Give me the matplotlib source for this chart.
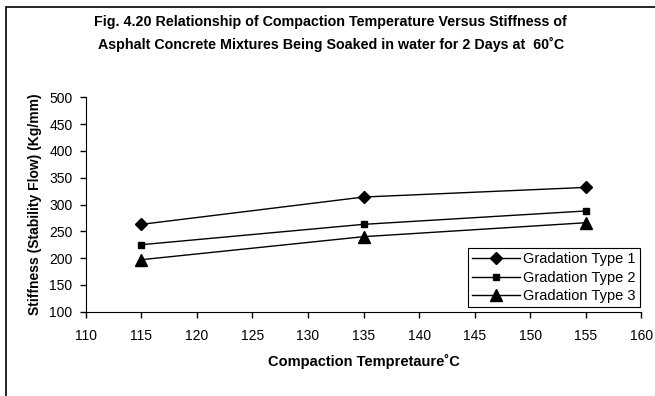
import matplotlib.pyplot as plt
from matplotlib.patches import Rectangle

temps = [115, 135, 155]
type1 = [263, 314, 332]
type2 = [225, 263, 288]
type3 = [197, 240, 266]
labels = ["Gradation Type 1", "Gradation Type 2", "Gradation Type 3"]

plt.rcParams['font.family'] = ['Liberation Sans', 'DejaVu Sans']

fig = plt.figure(figsize=(6.55, 3.96), dpi=100)
ax = fig.add_axes([0.131, 0.213, 0.848, 0.541])

# outer chart frame, cut off on the right and bottom like the source
fig.patches.append(Rectangle((6 / 655, -0.1), 1.2, 1 - 7 / 396 + 0.1,
                             transform=fig.transFigure, fill=False,
                             edgecolor='black', linewidth=1.2))

ax.plot(temps, type1, color='black', lw=1, marker='D', ms=6.5, label=labels[0])
ax.plot(temps, type2, color='black', lw=1, marker='s', ms=5, label=labels[1])
ax.plot(temps, type3, color='black', lw=1, marker='^', ms=8, label=labels[2])

ax.set_xlim(110, 160)
ax.set_ylim(100, 500)
ax.set_xticks(range(110, 161, 5))
ax.set_yticks(range(100, 501, 50))
ax.spines['top'].set_visible(False)
ax.spines['right'].set_visible(False)
ax.tick_params(direction='out', length=4.5, width=1, labelsize=10)
ax.tick_params(axis='x', pad=8)
ax.tick_params(axis='y', pad=5)

ax.set_xlabel("Compaction Tempretaure\u02daC", fontsize=10.5, fontweight='bold', labelpad=8)
ax.set_ylabel("Stiffness (Stability Flow) (Kg/mm)", fontsize=10, fontweight='bold', labelpad=5)

fig.text(0.505, 0.945, "Fig. 4.20 Relationship of Compaction Temperature Versus Stiffness of",
         ha='center', va='center', fontsize=10.3, fontweight='bold')
fig.text(0.505, 0.888, "Asphalt Concrete Mixtures Being Soaked in water for 2 Days at  60\u02daC",
         ha='center', va='center', fontsize=10.3, fontweight='bold')

leg = ax.legend(loc='lower right', bbox_to_anchor=(0.998, 0.02), fontsize=10.5,
                frameon=True, fancybox=False, edgecolor='black', framealpha=1,
                handlelength=3.3, handletextpad=0.2, borderpad=0.3, labelspacing=0.3,
                borderaxespad=0)
leg.get_frame().set_linewidth(0.8)

fig.savefig("out.png", dpi=100)
